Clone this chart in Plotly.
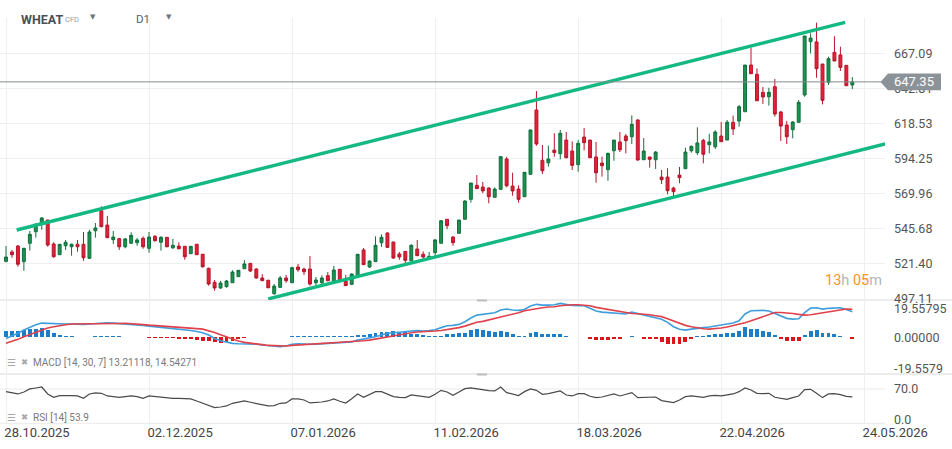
import plotly.graph_objects as go

# ---------------- DATA ----------------
opens = [523.2,529.7,533.8,523.0,535.7,543.7,548.8,551.8,535.2,527.8,
         534.0,533.3,535.0,535.0,525.3,544.4,558.2,548.3,538.2,538.9,
         533.3,535.7,536.1,539.1,532.2,540.5,536.4,539.8,532.6,533.8,
         533.6,528.5,535.0,528.1,518.4,508.7,504.8,505.7,508.4,512.6,
         518.1,521.8,517.9,511.7,510.1,500.8,505.2,511.7,508.4,519.3,
         517.9,517.9,508.4,508.4,513.3,509.1,517.7,509.6,507.3,513.1,
         531.1,519.3,523.0,536.1,542.8,536.6,528.3,530.1,523.6,531.7,
         528.1,524.8,529.2,535.7,552.3,540.0,542.6,552.3,566.1,575.8,
         574.6,573.9,567.5,573.0,594.0,575.3,573.2,567.9,583.4,627.9,
         593.1,591.4,600.2,597.7,607.1,599.5,590.1,609.2,607.1,595.4,
         591.2,586.6,599.7,605.8,609.9,609.4,621.0,593.5,595.4,593.5,
         581.5,581.5,573.9,582.9,587.3,599.7,598.4,606.9,603.9,602.5,
         609.9,607.1,619.4,620.3,626.7,659.0,652.6,640.1,637.1,644.0,
         626.5,617.5,614.3,619.4,638.3,675.2,675.0,659.7,647.1,667.8,
         666.0,658.8,645.2]
highs = [533.8,531.1,534.5,532.6,544.2,549.7,553.9,551.8,536.4,535.2,
         538.0,535.5,538.0,543.5,545.1,549.7,561.3,554.6,544.2,539.4,
         539.4,543.3,539.4,540.5,543.5,541.4,540.7,540.0,538.7,536.4,
         533.8,533.8,535.2,528.3,518.8,510.3,509.6,510.3,517.0,517.2,
         524.1,522.1,518.4,514.4,510.5,507.5,513.1,513.8,519.5,521.4,
         518.8,526.9,512.4,513.5,515.8,520.0,517.7,513.8,514.9,528.3,
         532.4,523.9,540.5,541.9,543.3,536.6,529.7,530.1,535.0,538.0,
         530.1,529.7,538.7,551.8,552.3,540.7,551.8,565.6,577.4,582.9,
         578.1,574.4,574.4,596.1,595.4,584.5,575.8,585.0,614.3,641.0,
         603.7,603.2,611.8,614.1,612.7,606.2,607.1,615.4,607.1,605.8,
         595.6,598.4,607.1,612.7,611.3,624.2,621.5,608.5,595.4,599.5,
         586.4,587.6,574.8,588.5,601.8,603.2,615.9,608.0,611.5,613.9,
         619.6,621.0,624.0,631.4,659.0,671.0,656.7,643.8,643.3,649.3,
         627.2,620.3,620.1,634.8,679.1,681.0,688.3,659.7,664.8,678.9,
         671.7,658.8,650.7]
lows = [522.5,525.7,519.5,516.7,530.6,539.6,545.1,533.3,525.7,527.6,
        531.1,527.1,529.9,523.6,524.8,539.6,546.8,539.2,535.2,531.1,
        532.2,535.4,534.0,531.9,529.2,536.8,530.6,533.0,531.7,531.5,
        524.3,528.3,527.6,518.8,506.4,502.9,504.1,505.0,508.4,512.4,
        518.0,515.8,511.2,509.8,504.9,500.1,505.0,508.4,508.4,516.0,
        513.8,506.4,506.6,507.0,509.4,509.1,509.6,506.4,506.8,512.9,
        520.9,518.6,523.0,533.3,532.4,525.0,524.3,521.8,523.2,527.1,
        525.0,524.8,527.1,535.7,545.4,534.0,542.6,552.3,563.8,573.5,
        570.3,563.4,567.5,573.0,574.4,568.6,563.8,567.7,583.4,603.2,
        583.6,588.7,595.6,593.8,594.5,586.4,585.2,600.0,594.9,577.6,
        581.8,579.0,592.8,598.8,597.9,604.4,592.8,593.5,588.0,587.1,
        576.7,569.6,567.9,577.2,587.3,598.4,596.8,591.0,597.9,600.9,
        606.0,607.1,610.6,616.4,626.7,653.0,634.3,632.1,630.9,623.3,
        606.5,604.4,608.3,619.4,637.1,667.1,650.2,631.8,645.2,661.8,
        654.9,644.7,642.4]
closes = [526.2,527.8,521.2,532.2,541.9,548.8,553.2,534.5,526.4,535.0,
          536.4,535.0,533.3,525.7,543.5,546.3,547.2,539.6,540.0,533.3,
          538.7,541.2,538.0,533.3,540.0,537.5,539.8,533.3,534.3,531.9,
          526.4,533.6,527.8,519.5,507.5,504.8,508.2,509.6,515.8,517.0,
          521.4,516.5,511.7,509.8,504.9,506.1,511.7,509.8,518.8,517.4,
          516.0,507.5,510.3,511.7,509.8,517.2,509.8,506.4,514.4,528.1,
          520.9,523.4,534.3,539.8,532.9,525.5,526.2,523.9,534.3,527.1,
          526.2,526.7,538.0,551.3,547.9,536.1,551.8,564.9,577.4,573.5,
          571.9,567.9,573.2,595.6,575.5,571.9,566.1,584.8,614.1,604.4,
          585.9,594.0,598.4,611.8,594.9,589.6,604.9,605.3,594.9,584.5,
          589.4,597.9,607.1,600.4,606.7,618.0,593.3,599.5,593.8,598.8,
          579.7,572.1,571.4,581.1,598.8,602.8,605.1,597.3,605.8,612.7,
          606.0,619.4,614.8,630.2,659.0,653.0,634.3,636.9,640.1,625.1,
          616.8,609.4,619.6,633.2,679.1,677.7,656.5,634.6,663.4,661.8,
          657.4,644.7,647.35]

macd_line = [-0.9,0.4,1.8,3.5,4.9,6.3,7.2,7.0,6.9,6.9,
             6.7,6.7,6.5,6.5,6.7,7.0,7.4,7.4,7.2,7.0,
             6.9,6.7,6.3,6.0,5.6,5.3,5.1,4.9,4.6,4.2,
             3.9,3.3,2.8,2.1,0.9,-0.9,-2.1,-3.0,-3.5,-3.7,
             -3.7,-3.9,-4.0,-4.4,-4.8,-5.1,-5.3,-4.9,-4.0,-3.7,
             -3.9,-4.0,-3.9,-3.7,-3.3,-3.2,-3.2,-3.0,-2.8,-1.8,
             -1.2,-0.9,0.0,0.9,1.8,2.1,2.5,2.8,3.0,3.2,
             3.0,3.2,3.7,4.8,5.8,6.0,6.5,7.9,9.9,11.4,
             11.8,12.0,12.7,14.1,14.6,14.1,13.9,14.4,16.2,17.1,
             16.7,16.7,16.9,17.6,16.9,16.5,16.4,16.4,15.0,13.6,
             13.0,12.7,12.3,12.1,12.0,13.0,12.3,11.4,10.9,10.2,
             9.2,7.6,5.3,3.9,3.5,4.0,4.6,4.8,5.1,5.6,
             6.3,6.9,7.2,8.4,12.0,13.7,13.9,13.9,13.6,12.3,
             10.9,9.7,9.3,9.5,12.7,15.1,15.3,14.6,15.0,15.1,
             15.3,14.4,13.21118]
signal_line = [-3.5,-2.6,-1.4,0.0,1.2,2.5,3.5,4.6,5.3,6.0,
               6.3,6.7,6.7,6.7,6.7,6.7,6.9,7.0,7.0,7.0,
               7.1,7.0,6.7,6.4,6.1,5.9,5.8,5.7,5.5,5.2,
               5.0,4.6,4.3,4.0,3.3,2.2,1.0,-0.2,-1.3,-2.3,
               -3.0,-3.5,-3.8,-4.2,-4.6,-4.8,-5.0,-4.9,-4.6,-4.4,
               -4.2,-4.0,-3.9,-3.7,-3.5,-3.3,-3.2,-3.0,-2.8,-2.5,
               -2.1,-1.8,-1.2,-0.7,-0.2,0.5,1.2,1.8,2.1,2.5,
               2.6,2.8,3.0,3.3,3.7,4.2,4.8,5.6,6.7,7.6,
               8.1,8.8,9.5,10.2,11.1,11.8,12.7,13.7,14.3,14.8,
               15.3,15.7,15.8,16.4,16.7,16.9,16.9,16.7,16.4,15.5,
               15.0,14.4,13.9,13.4,12.7,12.3,12.1,12.0,11.6,11.1,
               10.6,9.5,8.3,7.0,6.0,5.3,4.6,4.2,4.0,4.2,
               4.6,5.1,5.8,6.5,7.4,8.4,9.5,10.6,12.0,12.8,
               12.8,12.7,12.3,11.8,11.4,11.6,12.1,12.7,13.2,13.7,
               14.3,14.6,14.54271]
macd_hist = [3.2,2.8,3.2,3.5,3.9,3.9,4.6,3.5,1.8,0.7,
             0.4,0.3,-0.3,-0.4,-0.3,0.3,0.4,0.4,0.3,0.3,
             -0.3,-0.4,-0.4,-0.4,-0.5,-0.6,-0.7,-0.8,-0.9,-1.0,
             -1.1,-1.3,-1.5,-2.1,-2.5,-2.9,-3.2,-2.7,-2.1,-1.3,
             -0.7,-0.4,-0.3,-0.3,-0.3,-0.4,-0.4,-0.3,0.3,0.4,
             0.4,0.3,0.4,0.4,0.5,0.5,0.4,0.4,0.5,0.9,
             1.1,1.5,2.1,2.3,2.6,2.8,2.6,2.3,1.7,1.2,
             0.7,0.4,0.3,0.4,1.3,1.7,1.8,2.1,3.5,4.0,
             3.5,2.8,2.5,3.2,2.6,1.4,0.3,0.3,1.8,2.5,
             1.4,1.4,1.4,1.4,0.3,-0.3,-0.3,-0.4,-1.1,-1.8,
             -1.8,-1.8,-1.4,-1.1,-0.3,0.3,-0.3,-1.1,-1.4,-1.4,
             -2.6,-3.9,-4.0,-3.9,-2.6,-1.1,0.3,0.3,1.1,1.4,
             1.4,1.8,2.1,2.8,4.9,4.2,3.9,2.8,2.5,0.7,
             -1.1,-2.5,-2.5,-2.1,1.1,2.8,3.5,2.1,2.1,1.4,
             0.3,-0.3,-1.33]
rsi_values = [64.6,62.6,59.9,63.9,70.1,72.1,74.1,59.9,53.1,56.5,
              57.1,56.5,55.8,51.0,59.9,61.9,61.2,55.8,54.4,53.1,
              54.4,55.8,54.4,51.0,55.8,54.4,53.1,51.7,51.0,51.0,
              50.3,49.7,45.6,40.8,35.4,32.0,33.3,35.4,40.8,43.5,
              45.6,42.9,40.1,37.4,35.4,36.1,40.8,41.5,49.7,49.7,
              47.6,41.5,42.2,43.5,45.6,49.7,44.9,41.5,50.3,59.9,
              53.1,58.5,64.6,64.6,59.2,54.4,53.1,52.4,57.8,55.8,
              53.7,53.1,59.2,67.3,63.9,57.1,63.9,70.7,72.1,70.1,
              68.0,66.7,66.0,74.1,62.6,59.9,56.5,64.6,70.1,67.3,
              59.2,60.5,63.3,66.0,57.8,55.8,60.5,60.5,55.1,52.4,
              53.7,57.1,59.9,55.8,58.5,62.6,52.4,53.1,53.1,53.7,
              46.3,43.5,42.2,47.6,54.4,55.8,54.4,53.1,55.8,57.1,
              55.8,58.5,59.9,64.6,72.1,68.0,61.2,60.5,61.2,53.1,
              50.3,49.0,52.4,55.8,68.7,69.4,61.2,52.4,59.9,60.5,
              58.5,55.1,53.9]

# channel drawn on the chart (bar index, price)
upper_channel_bar = [1.79, 140.8]
upper_channel_price = [544.9, 688.5]
lower_channel_bar = [44.0, 147.5]
lower_channel_price = [497.2, 604.4]

date_tick_labels = ["28.10.2025", "02.12.2025", "07.01.2026", "11.02.2026",
                    "18.03.2026", "22.04.2026", "24.05.2026"]
bars_per_label = 24
price_tick_labels = ["497.11", "521.40", "545.68", "569.96", "594.25", "618.53", "642.81", "667.09"]

symbol = "WHEAT"
timeframe = "D1"
macd_params = "14, 30, 7"
rsi_period = 14

# ---------------- FIGURE ----------------
W, H = 952, 449
FONT = "Roboto"
bars = list(range(len(closes)))

def py(px):  # pixel row -> paper fraction
    return (H - px) / H

def pxx(px):
    return px / W

X_END = 885

fig = go.Figure()

fig.add_trace(go.Candlestick(
    x=bars, open=opens, high=highs, low=lows, close=closes,
    increasing=dict(line=dict(color="#12703d", width=1), fillcolor="#1e9152"),
    decreasing=dict(line=dict(color="#b5162a", width=1), fillcolor="#e2213a"),
    whiskerwidth=0, xaxis="x", yaxis="y", hoverinfo="skip", showlegend=False))

for bx, pr in ((upper_channel_bar, upper_channel_price), (lower_channel_bar, lower_channel_price)):
    fig.add_trace(go.Scatter(x=bx, y=pr, mode="lines",
                             line=dict(color="#13b981", width=3.4),
                             xaxis="x", yaxis="y", hoverinfo="skip", showlegend=False))

fig.add_trace(go.Bar(
    x=bars, y=macd_hist, width=0.66,
    marker=dict(color=["#1c7dc9" if v >= 0 else "#d9161c" for v in macd_hist], line=dict(width=0)),
    xaxis="x", yaxis="y2", hoverinfo="skip", showlegend=False))
fig.add_trace(go.Scatter(x=bars, y=macd_line, mode="lines",
                         line=dict(color="#3f9fdd", width=1.6),
                         xaxis="x", yaxis="y2", hoverinfo="skip", showlegend=False))
fig.add_trace(go.Scatter(x=bars, y=signal_line, mode="lines",
                         line=dict(color="#e0414a", width=1.6),
                         xaxis="x", yaxis="y2", hoverinfo="skip", showlegend=False))

fig.add_trace(go.Scatter(x=bars, y=rsi_values, mode="lines",
                         line=dict(color="#4a4a4a", width=1.2),
                         xaxis="x", yaxis="y3", hoverinfo="skip", showlegend=False))

grid = "#efefef"
tick_font = dict(family=FONT, size=12.5, color="#555555")

px_per_bar = 5.96
x_left = -6 / px_per_bar
x_right = x_left + X_END / px_per_bar

fig.update_layout(
    width=W, height=H, autosize=False,
    margin=dict(l=0, r=0, t=0, b=0),
    paper_bgcolor="white", plot_bgcolor="white",
    showlegend=False, bargap=0, boxgap=0.3,
    xaxis=dict(domain=[0, pxx(X_END)], range=[x_left, x_right], anchor="y3",
               tickvals=[i * bars_per_label for i in range(len(date_tick_labels))],
               ticktext=date_tick_labels, ticklabelshift=31, ticklabelstandoff=0,
               showgrid=True, gridcolor=grid, gridwidth=1, zeroline=False, showline=False,
               ticks="", tickfont=dict(family=FONT, size=13, color="#444444"),
               rangeslider=dict(visible=False), automargin=False, fixedrange=True),
    yaxis=dict(domain=[py(300), py(18)], range=[496.46, 691.55], side="right", anchor="x",
               tickvals=[float(t) for t in price_tick_labels], ticktext=price_tick_labels,
               showgrid=True, gridcolor=grid, zeroline=False, showline=False, ticks="",
               ticklabelstandoff=8, tickfont=tick_font, automargin=False, fixedrange=True),
    yaxis2=dict(domain=[py(374), py(300)], range=[-19.7, 19.4], side="right", anchor="x",
                tickvals=[14.8, -0.5, -17.1], ticktext=["19.55795", "0.00000", "-19.5579"],
                showgrid=False, zeroline=False, showline=False, ticks="",
                ticklabelstandoff=8, tickfont=tick_font, automargin=False, fixedrange=True),
    yaxis3=dict(domain=[py(423.3), py(374.3)], range=[0, 100], side="right", anchor="x",
                tickvals=[70, 8], ticktext=["70.0", "0.0"],
                showgrid=False, zeroline=False, showline=False, ticks="",
                ticklabelstandoff=8, tickfont=tick_font, automargin=False, fixedrange=True),
)

last = closes[-1]
shapes = [
    # panel separators
    dict(type="line", xref="paper", yref="paper", x0=0, x1=1, y0=py(300), y1=py(300),
         line=dict(color="#d9d9d9", width=1.2), layer="below"),
    dict(type="line", xref="paper", yref="paper", x0=0, x1=1, y0=py(374), y1=py(374),
         line=dict(color="#d9d9d9", width=1.2), layer="below"),
    dict(type="line", xref="paper", yref="paper", x0=0, x1=pxx(X_END), y0=py(423.3), y1=py(423.3),
         line=dict(color="#eaeaea", width=1), layer="below"),
    # RSI 70 level
    dict(type="line", xref="paper", yref="y3", x0=0, x1=pxx(X_END), y0=70, y1=70,
         line=dict(color="#eaeaea", width=1), layer="below"),
    # panel handles
    dict(type="line", xref="paper", yref="paper", x0=pxx(477), x1=pxx(487), y0=py(300.5), y1=py(300.5),
         line=dict(color="#bdbdbd", width=2)),
    dict(type="line", xref="paper", yref="paper", x0=pxx(477), x1=pxx(487), y0=py(374.5), y1=py(374.5),
         line=dict(color="#bdbdbd", width=2)),
    # current price line
    dict(type="line", xref="paper", yref="y", x0=0, x1=pxx(881), y0=last, y1=last,
         line=dict(color="#868c91", width=1), layer="above"),
    # price tag
    dict(type="path", xref="paper", yref="y",
         path=f"M {pxx(880.5)},{last} L {pxx(888)},{last + 5.8} L {pxx(941)},{last + 5.8} "
              f"L {pxx(941)},{last - 5.8} L {pxx(888)},{last - 5.8} Z",
         fillcolor="#8b9399", line=dict(width=0), layer="above"),
]
fig.update_layout(shapes=shapes)

ann = []
def A(text, x, y, size, color, xanchor="left", bold=False, family=FONT, yref="paper"):
    ann.append(dict(text=f"<b>{text}</b>" if bold else text, x=pxx(x), y=(py(y) if yref == "paper" else y),
                    xref="paper", yref=yref, showarrow=False, xanchor=xanchor, yanchor="middle",
                    font=dict(family=family, size=size, color=color)))

A(symbol, 19, 19, 12.5, "#4b5056", bold=True)
A("CFD", 63, 19, 7.5, "#9a9ea3")
A("▼", 88, 17.5, 7, "#70757a", family="DejaVu Sans")
A(timeframe, 134, 19, 11.5, "#5a5f64")
A("▼", 164, 17.5, 7, "#70757a", family="DejaVu Sans")
A(f"{last:.2f}", 914, last, 13, "white", xanchor="center", yref="y")
A("<span style='color:#f7941d'>13</span><span style='color:#b5b5b5'>h</span> "
  "<span style='color:#f7941d'>05</span><span style='color:#b5b5b5'>m</span>",
  884, 280, 14.5, "#f7941d", xanchor="right")
A("☰", 5, 362, 10, "#a8a8a8", family="DejaVu Sans")
A("✖", 19, 362, 8.5, "#a8a8a8", family="DejaVu Sans")
A(f"MACD [{macd_params}] {macd_line[-1]:.5f}, {signal_line[-1]:.5f}", 31, 362.5, 10, "#7a7a7a")
A("☰", 5, 417, 10, "#a8a8a8", family="DejaVu Sans")
A("✖", 19, 417, 8.5, "#a8a8a8", family="DejaVu Sans")
A(f"RSI [{rsi_period}] {rsi_values[-1]:.1f}", 31, 417.5, 10, "#7a7a7a")
fig.update_layout(annotations=ann)

fig.write_html("out.html", config={"displayModeBar": False, "staticPlot": True},
               post_script="document.body.style.margin='0';document.body.style.padding='0';")
